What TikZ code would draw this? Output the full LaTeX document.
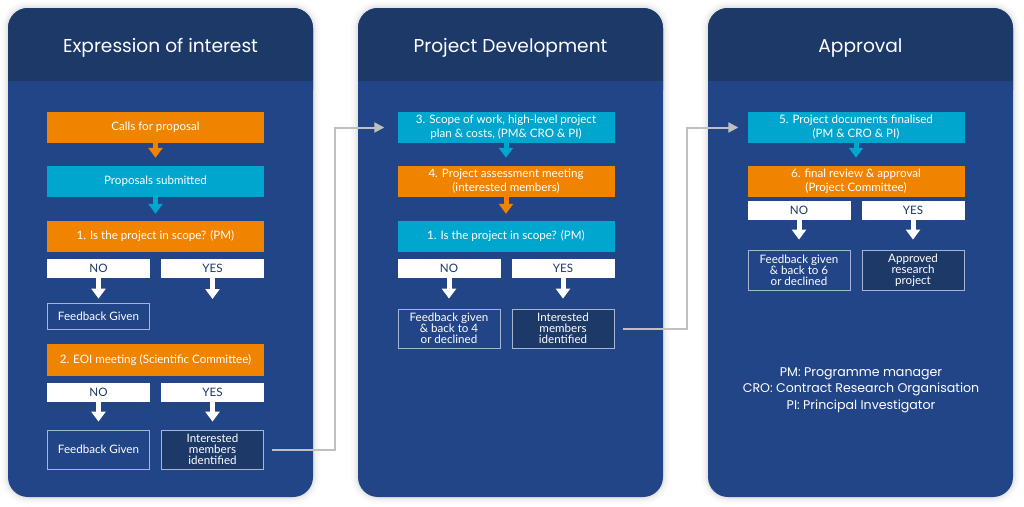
\documentclass[tikz,border=0pt]{standalone}
\usepackage{fontspec}
\setmainfont{Lato}
\newfontfamily\headfont{Poppins}
\usetikzlibrary{positioning,arrows.meta,calc}
\definecolor{HeadBlue}{RGB}{29,57,104}
\definecolor{BodyBlue}{RGB}{33,69,134}
\definecolor{StepOrange}{RGB}{240,132,0}
\definecolor{StepCyan}{RGB}{0,166,206}
\definecolor{EdgeBlue}{RGB}{165,182,212}
\definecolor{LinkGray}{RGB}{192,192,192}

\begin{document}
\begin{tikzpicture}[x=1pt, y=-1pt,
    box/.style={minimum width=217pt, minimum height=31pt, inner sep=0pt, align=center,
                text=white, font=\fontsize{11.6}{14}\selectfont},
    orangebox/.style={box, fill=StepOrange},
    cyanbox/.style={box, fill=StepCyan},
    answer/.style={minimum width=103pt, minimum height=19pt, inner sep=0pt, fill=white,
                   text=HeadBlue, font=\fontsize{11.6}{12}\selectfont},
    result/.style={minimum width=102pt, minimum height=#1, inner sep=0pt, draw=EdgeBlue,
                   line width=0.8pt, align=center, text=white, font=\fontsize{11.6}{11}\selectfont},
    darkresult/.style={result=#1, fill=HeadBlue},
    flow/.style={draw=#1, line width=5pt, -{Triangle[width=14pt,length=10pt]}},
    link/.style={draw=LinkGray, line width=2pt, -{Triangle[width=10pt,length=10pt]}}]

    \useasboundingbox (0,0) rectangle (1024,506);

    % Panels
    \foreach \px/\title in {8/Expression of interest, 358/Project Development, 708/Approval} {
        \foreach \s/\o in {7/0.015, 5/0.02, 3/0.03, 1.5/0.04}
            \fill[black, opacity=\o, rounded corners=20+\s]
                (\px-\s,8-\s) rectangle (\px+305+\s,497+\s);
        \fill[BodyBlue, rounded corners=20] (\px,8) rectangle (\px+305,497);
        \fill[HeadBlue, rounded corners=20] (\px,8) rectangle (\px+305,110);
        \fill[BodyBlue] (\px,81) rectangle (\px+305,120);
        \node[text=white, font=\headfont\fontsize{18.6}{20}\selectfont] (title\px) at (\px+152.5,48) {\title};
    }

    % Expression of interest
    \node[orangebox] (calls) at (155.5,127.5) {Calls for proposal};
    \node[cyanbox] (props) at (155.5,181.5) {Proposals submitted};
    \node[orangebox] (scope1) at (155.5,236.5) {1. Is the project in scope? (PM)};
    \node[answer] (no1) at (98.5,268.5) {NO};
    \node[answer] (yes1) at (212.5,268.5) {YES};
    \node[result=26pt] (fb1) at (98.5,316) {Feedback Given};
    \coordinate (yes1end) at (212.5,299);
    \node[orangebox, minimum height=32pt] (eoi) at (155.5,360) {2. EOI meeting (Scientific Committee)};
    \node[answer] (no2) at (98.5,392.5) {NO};
    \node[answer] (yes2) at (212.5,392.5) {YES};
    \node[result=39pt] (fb2) at (98.5,449.5) {Feedback Given};
    \node[darkresult=39pt] (int1) at (212.5,449.5) {Interested\\members\\identified};

    \draw[flow=StepOrange, shorten >=8pt] (calls) -- (props);
    \draw[flow=StepCyan, shorten >=7pt] (props) -- (scope1);
    \draw[flow=white, shorten >=4pt] (no1) -- (fb1);
    \draw[flow=white] (yes1) -- (yes1end);
    \draw[flow=white, shorten >=8pt] (no2) -- (fb2);
    \draw[flow=white, shorten >=8pt] (yes2) -- (int1);

    % Project Development
    \node[cyanbox] (s3) at (506,127.5) {3. Scope of work, high-level project\\plan \& costs, (PM\& CRO \& PI)};
    \node[orangebox] (s4) at (506,181.5) {4. Project assessment meeting\\(interested members)};
    \node[cyanbox] (scope2) at (506,236.5) {1. Is the project in scope? (PM)};
    \node[answer] (no3) at (449,268.5) {NO};
    \node[answer] (yes3) at (563,268.5) {YES};
    \node[result=39pt] (fb3) at (449,328.5) {Feedback given\\\& back to 4\\or declined};
    \node[darkresult=39pt] (int2) at (563,328.5) {Interested\\members\\identified};

    \draw[flow=StepCyan, shorten >=8pt] (s3) -- (s4);
    \draw[flow=StepOrange, shorten >=7pt] (s4) -- (scope2);
    \draw[flow=white, shorten >=10pt] (no3) -- (fb3);
    \draw[flow=white, shorten >=10pt] (yes3) -- (int2);

    % Approval
    \node[cyanbox] (s5) at (856,127.5) {5. Project documents finalised\\(PM \& CRO \& PI)};
    \node[orangebox] (s6) at (856,181.5) {6. final review \& approval\\(Project Committee)};
    \node[answer] (no4) at (799,210.5) {NO};
    \node[answer] (yes4) at (913,210.5) {YES};
    \node[result=40pt] (fb4) at (799,270) {Feedback given\\\& back to 6\\or declined};
    \node[darkresult=40pt] (appr) at (913,270) {Approved\\research\\project};
    \node[align=center, text=white, font=\headfont\fontsize{12.6}{16.5}\selectfont] (legend) at (861,390)
        {PM: Programme manager\\CRO: Contract Research Organisation\\PI: Principal Investigator};

    \draw[flow=StepCyan, shorten >=8pt] (s5) -- (s6);
    \draw[flow=white, shorten >=10pt] (no4) -- (fb4);
    \draw[flow=white, shorten >=10pt] (yes4) -- (appr);

    % Links between stages
    \coordinate (bend1) at (335,127.5);
    \coordinate (bend2) at (687,127.5);
    \draw[link, shorten <=8pt, shorten >=13pt] (int1.east) -| (bend1) -- (s3.west);
    \draw[link, shorten <=9pt, shorten >=9pt] (int2.east) -| (bend2) -- (s5.west);
\end{tikzpicture}
\end{document}
